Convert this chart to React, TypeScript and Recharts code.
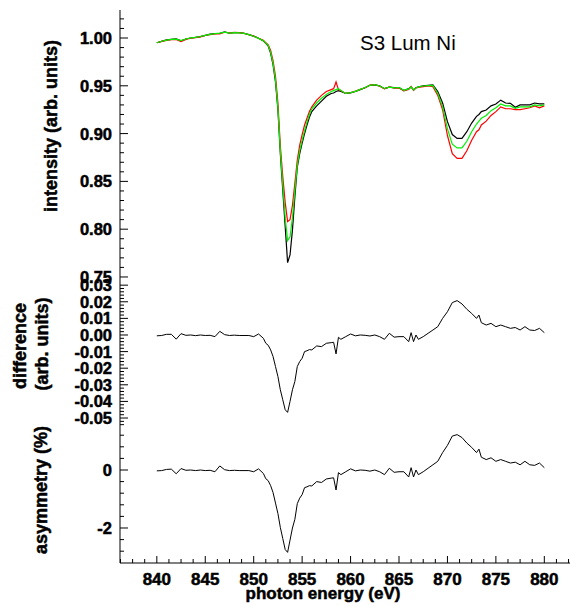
import React from 'react';
import { LineChart, Line, XAxis, YAxis } from 'recharts';

// ---------- data ----------
const energy = [
  840, 840.5, 841, 841.5, 842, 842.5, 843, 843.5, 844, 844.5,
  845, 845.5, 846, 846.5, 847, 847.5, 848, 848.5, 849, 849.5,
  850, 850.5, 851, 851.25, 851.5, 851.75, 852, 852.25, 852.5, 852.75,
  853, 853.25, 853.5, 853.75, 854, 854.25, 854.5, 854.75, 855, 855.25,
  855.5, 855.75, 856, 856.5, 857, 857.5, 858, 858.25, 858.5, 858.75,
  859, 859.5, 860, 860.5, 861, 861.5, 862, 862.5, 863, 863.5,
  864, 864.5, 865, 865.5, 866, 866.25, 866.5, 866.75, 867, 867.5,
  868, 868.5, 869, 869.5, 870, 870.5, 871, 871.5, 872, 872.5,
  873, 873.25, 873.5, 874, 874.5, 875, 875.5, 876, 876.5, 877,
  877.5, 878, 878.5, 879, 879.5, 880,
];

const intensityBlack = [
  0.995, 0.9965, 0.998, 0.9985, 0.999, 0.997, 0.999, 1.0, 1.0007, 1.0014,
  1.0028, 1.004, 1.0045, 1.005, 1.0063, 1.005, 1.0056, 1.0056, 1.005, 1.0035,
  1.002, 0.9997, 0.997, 0.9944, 0.9916, 0.984, 0.9718, 0.954, 0.925, 0.879,
  0.841, 0.803, 0.765, 0.773, 0.799, 0.834, 0.865, 0.879, 0.89, 0.9,
  0.909, 0.917, 0.923, 0.929, 0.934, 0.939, 0.942, 0.9425, 0.944, 0.945,
  0.944, 0.942, 0.9425, 0.944, 0.946, 0.948, 0.9505, 0.951, 0.95, 0.947,
  0.9485, 0.948, 0.948, 0.945, 0.947, 0.949, 0.9456, 0.948, 0.949, 0.95,
  0.9505, 0.951, 0.944, 0.932, 0.9125, 0.899, 0.895, 0.895, 0.902, 0.911,
  0.918, 0.92, 0.923, 0.9247, 0.929, 0.931, 0.935, 0.932, 0.9316, 0.9275,
  0.93, 0.93, 0.93, 0.932, 0.931, 0.931,
];

const intensityGreen = [
  0.995, 0.9966, 0.9978, 0.9986, 0.9988, 0.9972, 0.999, 1.0002, 1.0007, 1.0016,
  1.0028, 1.0038, 1.0046, 1.0052, 1.0062, 1.0052, 1.0057, 1.0054, 1.0049, 1.0036,
  1.0018, 0.9996, 0.9972, 0.9946, 0.992, 0.985, 0.9735, 0.9565, 0.927, 0.882,
  0.846, 0.812, 0.788, 0.792, 0.812, 0.84, 0.867, 0.882, 0.893, 0.903,
  0.912, 0.92, 0.926, 0.932, 0.937, 0.941, 0.944, 0.945, 0.946, 0.947,
  0.945, 0.942, 0.9428, 0.9442, 0.9462, 0.9482, 0.9505, 0.9512, 0.9498, 0.9472,
  0.9485, 0.9478, 0.9482, 0.9452, 0.9468, 0.9488, 0.9458, 0.9478, 0.9488, 0.9498,
  0.9502, 0.9505, 0.942, 0.928, 0.905, 0.889, 0.885, 0.885, 0.892, 0.902,
  0.91, 0.913, 0.916, 0.919, 0.924, 0.927, 0.931, 0.929, 0.929, 0.9265,
  0.928, 0.928, 0.928, 0.93, 0.929, 0.93,
];

const intensityRed = [
  0.995, 0.9964, 0.9976, 0.9984, 0.9986, 0.9962, 0.9986, 0.9998, 1.0004, 1.0012,
  1.0026, 1.0036, 1.0042, 1.0042, 1.006, 1.0054, 1.0058, 1.0056, 1.0048, 1.0034,
  1.002, 0.9998, 0.9976, 0.9952, 0.9928, 0.987, 0.976, 0.96, 0.932, 0.887,
  0.855, 0.828, 0.808, 0.81, 0.825, 0.848, 0.872, 0.888, 0.899, 0.909,
  0.916, 0.923, 0.928, 0.935, 0.94, 0.944, 0.946, 0.947, 0.954, 0.946,
  0.945, 0.942, 0.943, 0.9445, 0.9462, 0.948, 0.9508, 0.9512, 0.9495, 0.9468,
  0.9488, 0.9475, 0.9478, 0.9448, 0.9462, 0.9492, 0.9452, 0.9478, 0.9482, 0.9492,
  0.9498, 0.949, 0.94, 0.925, 0.898, 0.879, 0.874, 0.874, 0.882, 0.893,
  0.902, 0.904, 0.909, 0.913, 0.919, 0.923, 0.928, 0.926, 0.926, 0.925,
  0.925, 0.926, 0.927, 0.929, 0.927, 0.929,
];

const difference = [
  -0.0005, -0.0003, 0.0004, 0.0004, -0.0025, 0.0008, -0.0002, 0.0, -0.0004, 0.0,
  -0.0003, -0.0002, -0.001, 0.0022, 0.0002, -0.0003, -0.0001, -0.0003, -0.0003, -0.0003,
  -0.001, 0.0006, -0.002, -0.005, -0.0062, -0.009, -0.013, -0.019, -0.025, -0.033,
  -0.039, -0.045, -0.0466, -0.04, -0.033, -0.028, -0.019, -0.016, -0.014, -0.01,
  -0.0095, -0.0088, -0.009, -0.0066, -0.007, -0.005, -0.0046, -0.0044, -0.0114, -0.0014,
  -0.0026, -0.001, 0.0006, -0.0005, 0.0, -0.0002, -0.0006, 0.0, -0.001, -0.0026,
  0.001, -0.0013, -0.001, -0.001, -0.004, 0.0014, -0.004, 0.0, -0.0026, -0.001,
  0.001, 0.003, 0.005, 0.01, 0.014, 0.0195, 0.0207, 0.0187, 0.0155, 0.013,
  0.01, 0.012, 0.0074, 0.006, 0.007, 0.005, 0.006, 0.005, 0.004, 0.0045,
  0.003, 0.005, 0.003, 0.0027, 0.004, 0.0014,
];

const asymmetry = [
  -0.03, -0.02, 0.02, 0.03, -0.13, 0.05, -0.01, 0.0, -0.02, 0.0,
  -0.02, -0.01, -0.06, 0.14, 0.01, -0.02, -0.01, -0.02, -0.02, -0.02,
  -0.06, 0.04, -0.12, -0.3, -0.37, -0.54, -0.78, -1.14, -1.5, -1.98,
  -2.36, -2.74, -2.84, -2.42, -2.0, -1.7, -1.16, -0.97, -0.85, -0.61,
  -0.58, -0.54, -0.55, -0.4, -0.43, -0.31, -0.28, -0.27, -0.69, -0.09,
  -0.16, -0.06, 0.04, -0.03, 0.0, -0.01, -0.04, 0.0, -0.06, -0.16,
  0.06, -0.08, -0.06, -0.06, -0.24, 0.08, -0.24, 0.0, -0.16, -0.06,
  0.06, 0.18, 0.3, 0.6, 0.85, 1.17, 1.22, 1.12, 0.93, 0.78,
  0.6, 0.72, 0.44, 0.36, 0.42, 0.3, 0.36, 0.3, 0.24, 0.27,
  0.18, 0.3, 0.18, 0.16, 0.24, 0.08,
];

// tick labels
const xMajorTicks = [840, 845, 850, 855, 860, 865, 870, 875, 880];
const intensityMajorTicks = [0.75, 0.8, 0.85, 0.9, 0.95, 1.0];
const differenceMajorTicks = [0.03, 0.02, 0.01, 0.0, -0.01, -0.02, -0.03, -0.04, -0.05];
const asymmetryMajorTicks = [0, -2];

const sampleLabel = 'S3 Lum Ni';
const xTitle = 'photon energy (eV)';
const intensityTitle = 'intensity (arb. units)';
const differenceTitle1 = 'difference';
const differenceTitle2 = '(arb. units)';
const asymmetryTitle = 'asymmetry (%)';

// ---------- helpers ----------
const range = (a: number, b: number, step: number) => {
  const out: number[] = [];
  const n = Math.round((b - a) / step);
  for (let i = 0; i <= n; i++) out.push(Math.round((a + i * step) * 10000) / 10000);
  return out;
};

const xTicks = range(836.25, 882.5, 1.25);
const intensityTicks = range(0.75, 1.02, 0.01);
const differenceTicks = range(-0.054, 0.03, 0.002);
const asymmetryTicks = range(-2.8, 1.2, 0.4);

const X_DOMAIN: [number, number] = [836.2, 882.65];

const rows = energy.map((e, i) => ({
  e,
  black: intensityBlack[i],
  green: intensityGreen[i],
  red: intensityRed[i],
  diff: difference[i],
  asym: asymmetry[i],
}));

const FONT = '"Liberation Sans", Arial, Helvetica, sans-serif';
const boldStyle = { fontWeight: 700, stroke: '#000', strokeWidth: 0.5, paintOrder: 'stroke' } as any;
const isIn = (arr: number[], v: number) => arr.some((m) => Math.abs(m - v) < 1e-6);

const makeXTick = (side: 'top' | 'bottom', showLabels: boolean) => (props: any) => {
  const { x, y, payload } = props;
  const v = payload.value;
  const major = isIn(xMajorTicks, v);
  const len = major ? 7 : 4;
  const dir = side === 'top' ? 1 : -1;
  return (
    <g>
      <line x1={x} y1={y} x2={x} y2={y + dir * len} stroke="#000" strokeWidth={1} />
      {showLabels && major ? (
        <text x={x} y={y + 22} textAnchor="middle" fontFamily={FONT} fontWeight="bold" fontSize={17} fill="#000" style={boldStyle}>
          {String(v)}
        </text>
      ) : null}
    </g>
  );
};

const makeYTick = (majors: number[], fmt: (v: number) => string) => (props: any) => {
  const { x, y, payload } = props;
  const v = payload.value;
  const major = isIn(majors, v);
  const len = major ? 8 : 4;
  return (
    <g>
      <line x1={x} y1={y} x2={x + len} y2={y} stroke="#000" strokeWidth={1} />
      {major ? (
        <text x={x - 8} y={y} dy="0.36em" textAnchor="end" fontFamily={FONT} fontWeight="bold" fontSize={16.5} fill="#000" style={boldStyle}>
          {fmt(v)}
        </text>
      ) : null}
    </g>
  );
};

const rotText = (txt: string, x: number, y: number) => (
  <text
    x={x}
    y={y}
    transform={`rotate(-90 ${x} ${y})`}
    textAnchor="middle"
    fontFamily={FONT}
    fontWeight="bold"
    fontSize={18}
    fill="#000"
    style={boldStyle}
  >
    {txt}
  </text>
);

const axisLineStyle = { stroke: '#000', strokeWidth: 1 };

const commonX = {
  dataKey: 'e',
  type: 'number' as const,
  domain: X_DOMAIN,
  allowDataOverflow: true,
  ticks: xTicks,
  interval: 0 as const,
  tickSize: 0,
  tickMargin: 0,
  tickLine: false,
  axisLine: axisLineStyle,
};

export default function App() {
  const W = 570;
  return (
    <div style={{ position: 'absolute', left: 0, top: 0, width: W, height: 607, background: '#fff', fontFamily: FONT }}>
      {/* top panel: intensity */}
      <div style={{ position: 'absolute', left: 0, top: 0 }}>
        <LineChart width={W} height={300} data={rows} margin={{ top: 10, right: 0, bottom: 15, left: 0 }}>
          <XAxis {...commonX} xAxisId="t" orientation="top" height={0} tick={makeXTick('top', false)} />
          <XAxis {...commonX} xAxisId="b" orientation="bottom" height={0} tick={makeXTick('bottom', false)} />
          <YAxis
            type="number"
            width={120}
            domain={[0.7416, 1.0293]}
            allowDataOverflow
            ticks={intensityTicks}
            interval={0}
            tickSize={0}
            tickMargin={0}
            tickLine={false}
            axisLine={axisLineStyle}
            tick={makeYTick(intensityMajorTicks, (v) => v.toFixed(2))}
            label={{
              content: () => (
                <g>
                  {rotText(intensityTitle, 56.5, 126)}
                  <text x={360} y={50} fontFamily={FONT} fontSize={20.5} fill="#000">
                    {sampleLabel}
                  </text>
                </g>
              ),
            }}
          />
          <Line xAxisId="b" dataKey="black" stroke="#000000" strokeWidth={1.2} dot={false} isAnimationActive={false} />
          <Line xAxisId="b" dataKey="red" stroke="#ff0000" strokeWidth={1.2} dot={false} isAnimationActive={false} />
          <Line xAxisId="b" dataKey="green" stroke="#00f000" strokeWidth={1.2} dot={false} isAnimationActive={false} />
        </LineChart>
      </div>

      {/* middle panel: difference */}
      <div style={{ position: 'absolute', left: 0, top: 270 }}>
        <LineChart width={W} height={170} data={rows} margin={{ top: 15, right: 0, bottom: 15, left: 0 }}>
          <XAxis {...commonX} xAxisId="t" orientation="top" height={0} tick={makeXTick('top', false)} />
          <XAxis {...commonX} xAxisId="b" orientation="bottom" height={0} tick={makeXTick('bottom', false)} />
          <YAxis
            type="number"
            width={120}
            domain={[-0.0542, 0.0301]}
            allowDataOverflow
            ticks={differenceTicks}
            interval={0}
            tickSize={0}
            tickMargin={0}
            tickLine={false}
            axisLine={axisLineStyle}
            tick={makeYTick(differenceMajorTicks, (v) => (Math.abs(v) < 1e-9 ? '0.00' : v.toFixed(2)))}
            label={{
              content: () => (
                <g>
                  {rotText(differenceTitle1, 25.5, 76)}
                  {rotText(differenceTitle2, 47.5, 74)}
                </g>
              ),
            }}
          />
          <Line xAxisId="b" dataKey="diff" stroke="#000000" strokeWidth={1} dot={false} isAnimationActive={false} />
        </LineChart>
      </div>

      {/* bottom panel: asymmetry */}
      <div style={{ position: 'absolute', left: 0, top: 410 }}>
        <LineChart width={W} height={197} data={rows} margin={{ top: 15, right: 0, bottom: 0, left: 0 }}>
          <XAxis {...commonX} xAxisId="t" orientation="top" height={0} tick={makeXTick('top', false)} />
          <XAxis
            {...commonX}
            xAxisId="b"
            orientation="bottom"
            height={44}
            tick={makeXTick('bottom', true)}
            label={{
              content: () => (
                <text x={323} y={189} textAnchor="middle" fontFamily={FONT} fontWeight="bold" fontSize={17} fill="#000" style={boldStyle}>
                  {xTitle}
                </text>
              ),
            }}
          />
          <YAxis
            type="number"
            width={120}
            domain={[-3.207, 1.552]}
            allowDataOverflow
            ticks={asymmetryTicks}
            interval={0}
            tickSize={0}
            tickMargin={0}
            tickLine={false}
            axisLine={axisLineStyle}
            tick={makeYTick(asymmetryMajorTicks, (v) => String(Math.round(v)))}
            label={{ content: () => rotText(asymmetryTitle, 46.5, 80) }}
          />
          <Line xAxisId="b" dataKey="asym" stroke="#000000" strokeWidth={1} dot={false} isAnimationActive={false} />
        </LineChart>
      </div>
    </div>
  );
}
